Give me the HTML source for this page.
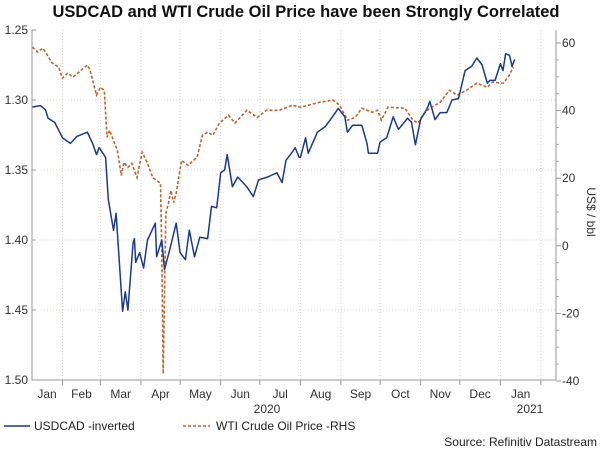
<!DOCTYPE html>
<html><head><meta charset="utf-8">
<style>
body{margin:0;background:#fff;font-family:"Liberation Sans",sans-serif;}
svg text{font-family:"Liberation Sans",sans-serif;}
</style></head>
<body>
<svg width="600" height="452" viewBox="0 0 600 452">
<text x="306" y="17" text-anchor="middle" font-size="16.5" font-weight="bold" fill="#111">USDCAD and WTI Crude Oil Price have been Strongly Correlated</text>
<g id="grid"></g>
<g id="axes"></g>
<g id="series"></g>
<text x="0" y="0" transform="translate(587,212) rotate(90)" text-anchor="middle" font-size="12" fill="#333">US$ / bbl</text>
<text x="267" y="413" text-anchor="middle" font-size="12" fill="#333">2020</text>
<text x="530" y="413" text-anchor="middle" font-size="12" fill="#333">2021</text>
<g>
<line x1="4" y1="426" x2="30" y2="426" stroke="#1a3a8a" stroke-width="1.6"/>
<text x="34" y="430" font-size="12" fill="#222">USDCAD -inverted</text>
<line x1="183" y1="426" x2="210" y2="426" stroke="#c0622a" stroke-width="1.6" stroke-dasharray="3,2"/>
<text x="216" y="430" font-size="12" fill="#222">WTI Crude Oil Price -RHS</text>
</g>
<text x="597" y="446" text-anchor="end" font-size="12" fill="#222">Source: Refinitiv Datastream</text>
</svg>
<script>
const usdDays=[8,14,18,20,25,31,37,42,50,54,57,59,64,66,70,72,77,79,81,85,86,87,90,93,96,102,103,107,109,113,118,121,125,128,132,136,142,145,149,152,155,157,161,165,172,177,181,188,195,199,202,207,209,212,213,217,219,226,232,236,242,247,249,253,260,264,265,272,274,279,284,288,295,298,301,305,310,312,316,320,325,329,334,339,344,348,352,356,358,362,366,368,370,373,375,377];
const usdVals=[1.305,1.304,1.307,1.313,1.316,1.327,1.331,1.326,1.323,1.331,1.339,1.334,1.341,1.371,1.393,1.381,1.451,1.437,1.450,1.402,1.399,1.416,1.409,1.420,1.400,1.388,1.412,1.400,1.421,1.407,1.388,1.409,1.414,1.393,1.412,1.398,1.399,1.376,1.377,1.352,1.350,1.339,1.362,1.355,1.362,1.369,1.357,1.355,1.352,1.359,1.343,1.337,1.334,1.341,1.341,1.327,1.338,1.323,1.319,1.314,1.306,1.312,1.323,1.318,1.318,1.331,1.338,1.338,1.330,1.327,1.312,1.321,1.313,1.316,1.332,1.314,1.306,1.301,1.314,1.309,1.309,1.300,1.299,1.279,1.276,1.270,1.275,1.288,1.286,1.286,1.274,1.279,1.267,1.268,1.276,1.271];
const wtiDays=[8,12,16,23,28,31,35,39,50,52,57,60,63,65,67,73,76,78,81,84,88,92,96,100,106,107,108,110,112,114,116,118,122,127,134,138,142,146,151,158,163,172,180,187,197,207,213,228,238,243,249,255,260,268,272,275,280,293,299,303,307,312,320,327,333,340,348,356,360,368,372,376];
const wtiVals=[58.8,57.3,58.5,54.1,52.9,49.6,51.1,49.9,53.5,52,44.6,46.9,46,32.1,34.2,28.2,20.8,24.7,23.2,24.4,20.2,27.7,24.4,20.2,18.5,-2.3,-37.9,9.6,12.5,16.4,12.8,15.5,25.3,23.8,26.2,32.7,33.6,32.7,36.3,38.6,36.3,40.1,38,40.1,40.1,41.6,41,42.5,43.1,41.6,37.2,38,40.7,39.5,40.1,37.2,41,40.7,37.2,36.3,38.9,40.7,42.5,46,44.6,46,48.1,46.9,48.4,48.1,49.9,52.9];
const leftTicks=[1.25,1.30,1.35,1.40,1.45,1.50];
const rightTicks=[60,40,20,0,-20,-40];
const monthLabels=["Jan","Feb","Mar","Apr","May","Jun","Jul","Aug","Sep","Oct","Nov","Dec","Jan"];
const monthStarts=[0,31,60,91,121,152,182,213,244,274,305,335,366,397];

const X0=32,X1=556,Y0=30,Y1=380;
const RY0=43,RY1=381;
const xd=d=>22+d*1.307;
const yL=v=>Y0+(v-1.25)/0.25*(Y1-Y0);
const yR=v=>RY1-(v+40)/100*(RY1-RY0);
const NS="http://www.w3.org/2000/svg";
function mk(tag,attrs,parent){const e=document.createElementNS(NS,tag);for(const k in attrs)e.setAttribute(k,attrs[k]);parent.appendChild(e);return e;}
const grid=document.getElementById('grid'),axes=document.getElementById('axes'),series=document.getElementById('series');

leftTicks.forEach(v=>{
  const y=yL(v);
  if(v>1.25&&v<1.5){const g=mk('line',{x1:X0,x2:X1,y1:y,y2:y,stroke:'#cfd8c8','stroke-width':1,'stroke-dasharray':'1,2'},grid);
  
  }
  const t=mk('text',{x:28,y:y+4,'text-anchor':'end','font-size':12,fill:'#333'},axes);t.textContent=v.toFixed(2);
  
  
  mk('line',{x1:X0,x2:X0+4,y1:y,y2:y,stroke:'#999'},axes);
});
rightTicks.forEach(v=>{
  const y=yR(v);
  const t=mk('text',{x:562,y:y+4,'font-size':12,fill:'#333'},axes);t.textContent=v;
  
  
  mk('line',{x1:X1,x2:X1+5,y1:y,y2:y,stroke:'#999'},axes);
});
for(let v=-35;v<60;v+=5){if(v%20===0)continue;const y=yR(v);mk('line',{x1:X1,x2:X1+3,y1:y,y2:y,stroke:'#aaa'},axes);}
monthStarts.forEach((d,i)=>{
  const x=xd(d);
  if(x>X0&&x<X1){const g=mk('line',{x1:x,x2:x,y1:Y0,y2:Y1,stroke:'#cfd8c8','stroke-dasharray':'1,2'},grid);
  
  
  mk('line',{x1:x,x2:x,y1:Y1,y2:Y1+5,stroke:'#999'},axes);}
  if(i<monthLabels.length){const xm=Math.max(X0+15,(xd(d)+xd(monthStarts[i+1]))/2);
  const t=mk('text',{x:xm,y:398,'text-anchor':'middle','font-size':12,fill:'#333'},axes);t.textContent=monthLabels[i];
  
  }
});
mk('line',{x1:X0,x2:X0,y1:Y0,y2:Y1,stroke:'#999'},axes);
mk('line',{x1:X1,x2:X1,y1:Y0,y2:Y1,stroke:'#999'},axes);
mk('line',{x1:X0,x2:X1,y1:Y1,y2:Y1,stroke:'#999'},axes);

const wp=wtiDays.map((d,i)=>xd(d).toFixed(1)+','+yR(wtiVals[i]).toFixed(1)).join(' ');
const w=mk('polyline',{points:wp,fill:'none',stroke:'#c0622a','stroke-width':1.6,'stroke-dasharray':'3,2'},series);


const up=usdDays.map((d,i)=>xd(d).toFixed(1)+','+yL(usdVals[i]).toFixed(1)).join(' ');
const u=mk('polyline',{points:up,fill:'none',stroke:'#1a3a8a','stroke-width':1.5,'stroke-linejoin':'round'},series);


</script>
</body></html>
